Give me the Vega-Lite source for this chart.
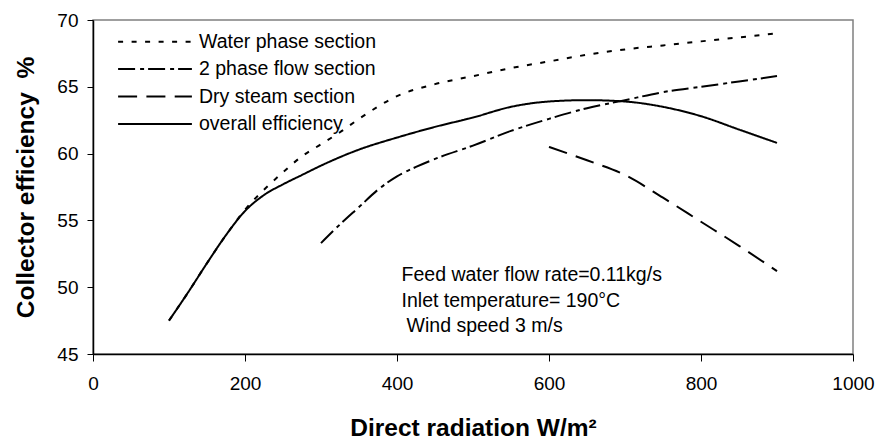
{
  "$schema": "https://vega.github.io/schema/vega-lite/v6.json",
  "width": 760,
  "height": 334,
  "autosize": {"type": "none"},
  "padding": {"left": 93, "top": 20, "right": 25, "bottom": 86},
  "background": "white",
  "config": {
    "font": "Liberation Sans",
    "view": {"stroke": "#808080", "strokeWidth": 1.5}
  },
  "layer": [
    {
      "data": {
        "values": [
          {"series": "Water phase section", "radiation": 100, "eff": 47.5},
          {"series": "Water phase section", "radiation": 125, "eff": 49.6},
          {"series": "Water phase section", "radiation": 150, "eff": 51.8},
          {"series": "Water phase section", "radiation": 175, "eff": 53.9},
          {"series": "Water phase section", "radiation": 200, "eff": 55.8},
          {"series": "Water phase section", "radiation": 225, "eff": 57.3},
          {"series": "Water phase section", "radiation": 250, "eff": 58.6},
          {"series": "Water phase section", "radiation": 275, "eff": 59.8},
          {"series": "Water phase section", "radiation": 300, "eff": 60.7},
          {"series": "Water phase section", "radiation": 325, "eff": 61.6},
          {"series": "Water phase section", "radiation": 350, "eff": 62.6},
          {"series": "Water phase section", "radiation": 400, "eff": 64.3},
          {"series": "Water phase section", "radiation": 450, "eff": 65.2},
          {"series": "Water phase section", "radiation": 500, "eff": 65.8},
          {"series": "Water phase section", "radiation": 550, "eff": 66.4},
          {"series": "Water phase section", "radiation": 600, "eff": 66.9},
          {"series": "Water phase section", "radiation": 650, "eff": 67.4},
          {"series": "Water phase section", "radiation": 700, "eff": 67.8},
          {"series": "Water phase section", "radiation": 750, "eff": 68.1},
          {"series": "Water phase section", "radiation": 800, "eff": 68.4},
          {"series": "Water phase section", "radiation": 850, "eff": 68.7},
          {"series": "Water phase section", "radiation": 900, "eff": 69.0},
          {"series": "2 phase flow section", "radiation": 300, "eff": 53.3},
          {"series": "2 phase flow section", "radiation": 325, "eff": 54.7},
          {"series": "2 phase flow section", "radiation": 350, "eff": 56.0},
          {"series": "2 phase flow section", "radiation": 375, "eff": 57.3},
          {"series": "2 phase flow section", "radiation": 400, "eff": 58.3},
          {"series": "2 phase flow section", "radiation": 425, "eff": 59.0},
          {"series": "2 phase flow section", "radiation": 450, "eff": 59.6},
          {"series": "2 phase flow section", "radiation": 500, "eff": 60.6},
          {"series": "2 phase flow section", "radiation": 550, "eff": 61.7},
          {"series": "2 phase flow section", "radiation": 600, "eff": 62.6},
          {"series": "2 phase flow section", "radiation": 650, "eff": 63.4},
          {"series": "2 phase flow section", "radiation": 700, "eff": 64.0},
          {"series": "2 phase flow section", "radiation": 750, "eff": 64.6},
          {"series": "2 phase flow section", "radiation": 800, "eff": 65.0},
          {"series": "2 phase flow section", "radiation": 850, "eff": 65.4},
          {"series": "2 phase flow section", "radiation": 900, "eff": 65.8},
          {"series": "Dry steam section", "radiation": 600, "eff": 60.5},
          {"series": "Dry steam section", "radiation": 650, "eff": 59.5},
          {"series": "Dry steam section", "radiation": 700, "eff": 58.4},
          {"series": "Dry steam section", "radiation": 750, "eff": 56.7},
          {"series": "Dry steam section", "radiation": 800, "eff": 54.9},
          {"series": "Dry steam section", "radiation": 850, "eff": 53.1},
          {"series": "Dry steam section", "radiation": 900, "eff": 51.2},
          {"series": "overall efficiency", "radiation": 100, "eff": 47.5},
          {"series": "overall efficiency", "radiation": 125, "eff": 49.6},
          {"series": "overall efficiency", "radiation": 150, "eff": 51.8},
          {"series": "overall efficiency", "radiation": 175, "eff": 53.9},
          {"series": "overall efficiency", "radiation": 200, "eff": 55.7},
          {"series": "overall efficiency", "radiation": 225, "eff": 56.9},
          {"series": "overall efficiency", "radiation": 250, "eff": 57.7},
          {"series": "overall efficiency", "radiation": 275, "eff": 58.4},
          {"series": "overall efficiency", "radiation": 300, "eff": 59.1},
          {"series": "overall efficiency", "radiation": 350, "eff": 60.3},
          {"series": "overall efficiency", "radiation": 400, "eff": 61.2},
          {"series": "overall efficiency", "radiation": 450, "eff": 62.0},
          {"series": "overall efficiency", "radiation": 500, "eff": 62.7},
          {"series": "overall efficiency", "radiation": 550, "eff": 63.5},
          {"series": "overall efficiency", "radiation": 600, "eff": 63.9},
          {"series": "overall efficiency", "radiation": 650, "eff": 64.0},
          {"series": "overall efficiency", "radiation": 700, "eff": 63.9},
          {"series": "overall efficiency", "radiation": 750, "eff": 63.5},
          {"series": "overall efficiency", "radiation": 800, "eff": 62.8},
          {"series": "overall efficiency", "radiation": 850, "eff": 61.8},
          {"series": "overall efficiency", "radiation": 900, "eff": 60.8}
        ]
      },
      "mark": {"type": "line", "color": "black", "strokeWidth": 2, "interpolate": "monotone"},
      "encoding": {
        "x": {
          "field": "radiation",
          "type": "quantitative",
          "scale": {"domain": [0, 1000], "nice": false},
          "title": "Direct radiation W/m²",
          "axis": {
            "values": [0, 200, 400, 600, 800, 1000],
            "format": "d",
            "grid": false,
            "tickSize": 7,
            "tickColor": "black",
            "domainColor": "black",
            "domainWidth": 1.5,
            "labelFontSize": 19,
            "labelColor": "black",
            "labelPadding": 13,
            "labelFlush": false,
            "titleFontSize": 24.5,
            "titleFontWeight": "bold",
            "titleColor": "black",
            "titlePadding": 23
          }
        },
        "y": {
          "field": "eff",
          "type": "quantitative",
          "scale": {"domain": [45, 70], "nice": false, "zero": false},
          "title": "Collector efficiency\u00a0\u00a0%",
          "axis": {
            "values": [45, 50, 55, 60, 65, 70],
            "grid": false,
            "tickSize": 6,
            "tickColor": "black",
            "domainColor": "black",
            "domainWidth": 1.5,
            "labelFontSize": 19,
            "labelColor": "black",
            "labelPadding": 9,
            "titleFontSize": 24.5,
            "titleFontWeight": "bold",
            "titleColor": "black",
            "titlePadding": 18
          }
        },
        "strokeDash": {
          "field": "series",
          "type": "nominal",
          "scale": {
            "domain": ["Water phase section", "2 phase flow section", "Dry steam section", "overall efficiency"],
            "range": [[5, 8.5], [17, 5, 4, 4], [19, 9.3], [1, 0]]
          },
          "legend": {
            "orient": "none",
            "legendX": 52,
            "legendY": 11.7,
            "title": null,
            "padding": 0,
            "symbolType": "M-4.1,0H4.1",
            "symbolSize": 324,
            "symbolStrokeWidth": 2,
            "symbolStrokeColor": "black",
            "symbolFillColor": "transparent",
            "labelFontSize": 19.5,
            "labelColor": "black",
            "labelOffset": 34,
            "labelLimit": 400,
            "rowPadding": 7.4
          }
        }
      }
    },
    {
      "data": {"values": [{"note": "conditions"}]},
      "mark": {
        "type": "text",
        "text": ["Feed water flow rate=0.11kg/s", "Inlet temperature= 190°C"],
        "align": "left",
        "baseline": "alphabetic",
        "fontSize": 19.5,
        "lineHeight": 26,
        "color": "black"
      },
      "encoding": {
        "x": {"datum": 406, "type": "quantitative"},
        "y": {"datum": 50.5, "type": "quantitative"}
      }
    },
    {
      "data": {"values": [{"note": "wind"}]},
      "mark": {
        "type": "text",
        "text": "Wind speed 3 m/s",
        "align": "left",
        "baseline": "alphabetic",
        "fontSize": 19.5,
        "dx": 5,
        "color": "black"
      },
      "encoding": {
        "x": {"datum": 406, "type": "quantitative"},
        "y": {"datum": 46.63, "type": "quantitative"}
      }
    }
  ]
}
